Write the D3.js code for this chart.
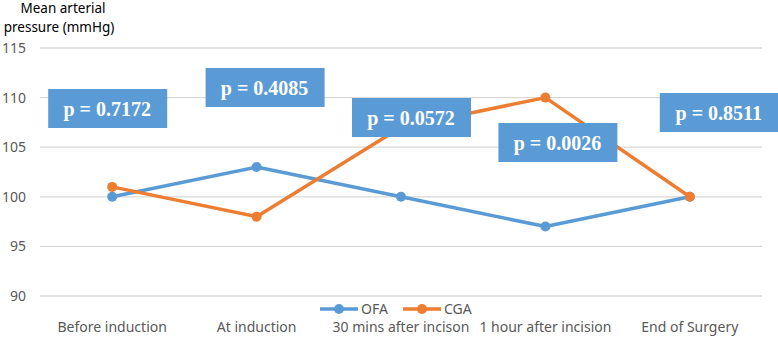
<!DOCTYPE html>
<html>
<head>
<meta charset="utf-8">
<script src="https://cdn.jsdelivr.net/npm/d3@7"></script>
<style>
  body { margin: 0; background: #fff; }
  text { font-family: "Noto Sans", "Open Sans", sans-serif; }
</style>
</head>
<body>
<div id="chart"></div>
<script>
// chart data
var categories = ["Before induction", "At induction", "30 mins after incison", "1 hour after incision", "End of Surgery"];
var ofaValues = [100, 103, 100, 97, 100];
var cgaValues = [101, 98, 107, 110, 100];
var yTicks = [90, 95, 100, 105, 110, 115];
var pLabels = ["p = 0.7172", "p = 0.4085", "p = 0.0572", "p = 0.0026", "p = 0.8511"];

// where the p-value boxes sit (offset from category centre, top in px)
var boxDx = [-5, 8, 10, 12, 29];
var boxTop = [89, 68, 98, 123, 93];

var width = 778, height = 338;
var margin = { left: 40, right: 16, top: 48, bottom: 42 };

var svg = d3.select("#chart").append("svg")
  .attr("width", width)
  .attr("height", height);

var x = d3.scalePoint()
  .domain(categories)
  .range([margin.left, width - margin.right])
  .padding(0.5);

var y = d3.scaleLinear()
  .domain([90, 115])
  .range([height - margin.bottom, margin.top]);

// gridlines
svg.append("g").selectAll("line")
  .data(yTicks)
  .enter().append("line")
  .attr("x1", margin.left)
  .attr("x2", width - margin.right)
  .attr("y1", function (d) { return y(d); })
  .attr("y2", function (d) { return y(d); })
  .style("stroke", "#d9d9d9")
  .style("stroke-width", 1.3);

// y tick labels
svg.append("g").selectAll("text")
  .data(yTicks)
  .enter().append("text")
  .attr("x", 26)
  .attr("y", function (d) { return y(d); })
  .attr("dy", "0.35em")
  .style("text-anchor", "end")
  .style("font-size", "14px")
  .style("fill", "#595959")
  .text(function (d) { return d; });

// axis title, two lines
svg.append("text")
  .attr("x", 63)
  .attr("y", 13)
  .style("text-anchor", "middle")
  .style("font-size", "13.5px")
  .style("fill", "#000")
  .text("Mean arterial");
svg.append("text")
  .attr("x", 59)
  .attr("y", 32)
  .style("text-anchor", "middle")
  .style("font-size", "13.5px")
  .style("fill", "#000")
  .text("pressure (mmHg)");

// x labels
svg.append("g").selectAll("text")
  .data(categories)
  .enter().append("text")
  .attr("x", function (d) { return x(d); })
  .attr("y", 332)
  .style("text-anchor", "middle")
  .style("font-size", "14px")
  .style("fill", "#595959")
  .text(function (d) { return d; });

// series
var series = [
  { name: "OFA", values: ofaValues, color: "#5b9bd5" },
  { name: "CGA", values: cgaValues, color: "#ed7d31" }
];

var line = d3.line()
  .x(function (d, i) { return x(categories[i]); })
  .y(function (d) { return y(d); });

series.forEach(function (s) {
  svg.append("path")
    .datum(s.values)
    .attr("d", line)
    .style("fill", "none")
    .style("stroke", s.color)
    .style("stroke-width", 3.5)
    .style("stroke-linejoin", "round");

  svg.append("g").selectAll("circle")
    .data(s.values)
    .enter().append("circle")
    .attr("cx", function (d, i) { return x(categories[i]); })
    .attr("cy", function (d) { return y(d); })
    .attr("r", 5)
    .style("fill", s.color);
});

// legend
var legend = svg.append("g").attr("transform", "translate(320,309)");
series.forEach(function (s, i) {
  var g = legend.append("g").attr("transform", "translate(" + (i * 83) + ",0)");
  g.append("line")
    .attr("x1", 0).attr("x2", 38)
    .style("stroke", s.color)
    .style("stroke-width", 3.5);
  g.append("circle")
    .attr("cx", 19).attr("r", 5)
    .style("fill", s.color);
  g.append("text")
    .attr("x", 41)
    .attr("dy", "0.35em")
    .style("font-size", "14px")
    .style("fill", "#595959")
    .text(s.name);
});

// p-value boxes
var boxes = svg.append("g").selectAll("g")
  .data(pLabels)
  .enter().append("g")
  .attr("transform", function (d, i) {
    return "translate(" + (x(categories[i]) + boxDx[i]) + "," + boxTop[i] + ")";
  });

boxes.append("rect")
  .attr("x", -59)
  .attr("width", 119)
  .attr("height", 39)
  .style("fill", "#5b9bd5");

boxes.append("text")
  .attr("x", 0)
  .attr("y", 20)
  .attr("dy", "0.35em")
  .style("text-anchor", "middle")
  .style("font-family", "'Liberation Serif', 'DejaVu Serif', serif")
  .style("font-weight", "bold")
  .style("font-size", "20px")
  .style("fill", "#fff")
  .text(function (d) { return d; });
</script>
</body>
</html>
